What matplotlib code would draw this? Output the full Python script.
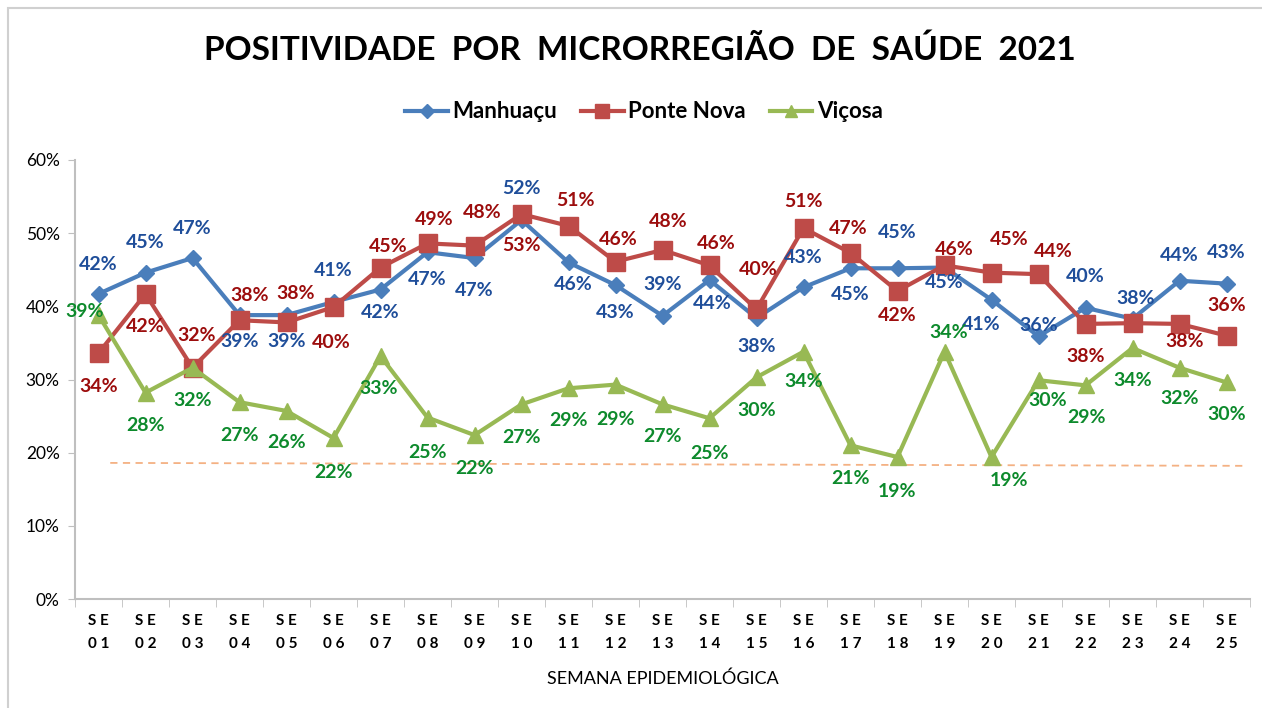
import numpy as np
import matplotlib
matplotlib.use("Agg")
import matplotlib.pyplot as plt
from matplotlib.patches import Rectangle

plt.rcParams['font.family'] = ['Lato', 'DejaVu Sans']

semanas = ["S E\n%s" % " ".join("%02d" % i) for i in range(1, 26)]
manhuacu = [41.7, 44.6, 46.6, 38.8, 38.8, 40.6, 42.3, 47.4, 46.6, 51.8, 46.0, 42.9, 38.7,
            43.6, 38.4, 42.6, 45.2, 45.2, 45.3, 40.9, 35.9, 39.8, 38.3, 43.5, 43.1]
ponte_nova = [33.6, 41.7, 31.6, 38.1, 37.8, 39.9, 45.3, 48.6, 48.3, 52.6, 51.0, 46.1, 47.7,
              45.6, 39.6, 50.7, 47.3, 42.1, 45.6, 44.6, 44.4, 37.6, 37.7, 37.6, 36.0]
vicosa = [38.8, 28.2, 31.6, 26.9, 25.7, 22.0, 33.2, 24.8, 22.4, 26.6, 28.8, 29.3, 26.6,
          24.7, 30.3, 33.8, 21.0, 19.4, 33.8, 19.4, 29.9, 29.2, 34.3, 31.6, 29.6]
linha_ref = [18.6, 18.2]

# label offsets in pixels (dx, dy down), None = no label
off_m = [(0, -29), (0, -30), (0, -30), (0, 26), (0, 26), (0, -31), (0, 23), (0, 27), (0, 32),
         (0, -31), (5, 22), (0, 27), (0, -31), (3, 24), (0, 28), (0, -30), (0, 26), (0, -36),
         (0, 15), (-10, 25), (0, -11), (0, -31), (3, -20), (0, -25), (0, -31)]
off_p = [(0, 33), (0, 33), (4, -32), (10, -25), (9, -29), (-2, 35), (8, -21), (7, -24), (8, -33),
         (0, 31), (7, -25), (3, -22), (6, -28), (7, -22), (2, -40), (0, -27), (-2, -24), (0, 25),
         (10, -16), (18, -33), (15, -23), (0, 33), None, (5, 18), (0, -30)]
off_v = [(-14, -4), (0, 33), (0, 33), (0, 33), (0, 32), (0, 34), (-2, 32), (0, 35), (0, 33),
         (0, 33), (0, 32), (0, 35), (0, 32), (0, 35), (0, 33), (0, 30), (0, 33), (0, 34),
         (4, -19), (18, 23), (9, 20), (1, 32), (0, 32), (0, 31), (0, 32)]

fig = plt.figure(figsize=(12.62, 7.08), dpi=100)
fig.patches.append(Rectangle((8 / 1262, -0.1), 1.2, 1.1 - 8 / 708, transform=fig.transFigure,
                             fill=False, edgecolor='#d0d0d0', linewidth=1.5))
ax = fig.add_axes([75 / 1262, 1 - 599 / 708, 1175 / 1262, 439 / 708])

x = np.arange(len(semanas))
series = [
    ("Manhuaçu", manhuacu, '#4a7ebb', 'D', 8.5, '#1f4e9a', off_m),
    ("Ponte Nova", ponte_nova, '#be4b48', 's', 12.5, '#9c0d0d', off_p),
    ("Viçosa", vicosa, '#98b954', '^', 11, '#0d8a2c', off_v),
]
for name, vals, col, mk, ms, tcol, offs in series:
    ax.plot(x, vals, color=col, lw=3, marker=mk, markersize=ms, label=name, zorder=3)
    for xi, v, o in zip(x, vals, offs):
        if o is None:
            continue
        ax.annotate("%.0f%%" % v, (xi, v), xytext=(o[0], -o[1]), textcoords='offset pixels',
                    ha='center', va='center', fontsize=14, fontweight='bold', color=tcol,
                    zorder=4)

ax.plot([0.25, 24.4], linha_ref, color='#f4b183', lw=1.3, ls=(0, (4, 3)), zorder=2)

ax.set_xlim(-0.5, 24.5)
ax.set_ylim(0, 60)
ax.set_yticks(range(0, 61, 10))
ax.set_yticklabels(["%d%%" % t for t in range(0, 61, 10)], fontsize=12.5)
ax.set_xticks(x)
ax.set_xticklabels(semanas, fontsize=11, fontweight='bold', linespacing=1.8)
ax.set_xticks(np.arange(-0.5, 25, 1), minor=True)
ax.tick_params(axis='x', which='major', length=0, pad=11)
ax.tick_params(axis='x', which='minor', length=6, color='#bfbfbf')
ax.tick_params(axis='y', length=5, color='#bfbfbf', pad=6)
for s in ['top', 'right']:
    ax.spines[s].set_visible(False)
for s in ['left', 'bottom']:
    ax.spines[s].set_color('#bfbfbf')
    ax.spines[s].set_linewidth(1.5)
ax.set_xlabel("SEMANA EPIDEMIOLÓGICA", fontsize=13, labelpad=14)

fig.text(640 / 1262, 1 - 50 / 708, "POSITIVIDADE  POR  MICRORREGIÃO  DE  SAÚDE  2021",
         ha='center', va='center', fontsize=24, fontweight='bold')
ax.legend(loc='center', bbox_to_anchor=(644 / 1262, 1 - 112 / 708), bbox_transform=fig.transFigure,
          ncol=3, frameon=False, prop={'size': 16, 'weight': 'bold'}, handlelength=1.9,
          columnspacing=1.1, handletextpad=0.2, markerscale=0.8)

fig.savefig("out.png", dpi=100)
